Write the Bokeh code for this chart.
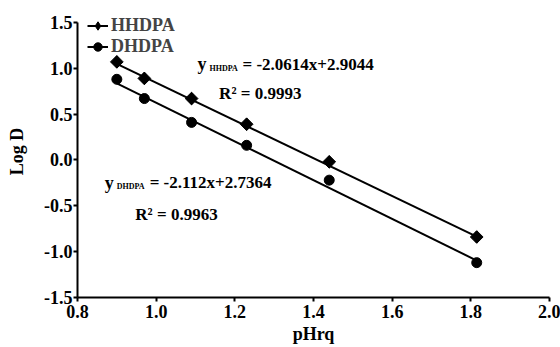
import math
from bokeh.plotting import figure
from bokeh.models import Range1d, Label, Legend, LegendItem, ColumnDataSource
from bokeh.embed import file_html
from bokeh.resources import INLINE

# Data
x_vals = [0.90, 0.97, 1.09, 1.23, 1.44, 1.815]
hhdpa = [1.07, 0.89, 0.67, 0.39, -0.02, -0.84]
dhdpa = [0.88, 0.67, 0.41, 0.16, -0.22, -1.12]
fit_slope = {"HHDPA": -2.0614, "DHDPA": -2.112}
fit_icpt = {"HHDPA": 2.9044, "DHDPA": 2.7364}
fit_x = [0.90, 1.815]
x_ticks = [0.8, 1.0, 1.2, 1.4, 1.6, 1.8, 2.0]
y_ticks = [-1.5, -1.0, -0.5, 0.0, 0.5, 1.0, 1.5]

FONT = "Liberation Serif"
FS = "18px"

# y range extended above 1.5 only to leave room for the legend; axis bounded at 1.5
p = figure(width=560, height=347, output_backend="svg", toolbar_location=None,
           x_range=Range1d(0.8, 2.0), y_range=Range1d(-1.5, 1.685),
           min_border_left=77, min_border_right=11, min_border_top=5, min_border_bottom=50)
p.outline_line_color = None
p.grid.visible = False
p.background_fill_color = "white"
p.border_fill_color = "white"

for ax in (p.xaxis[0], p.yaxis[0]):
    ax.axis_line_width = 2
    ax.major_tick_line_width = 2
    ax.major_tick_in = 0
    ax.major_tick_out = 4
    ax.minor_tick_line_color = None
    ax.major_label_text_font = FONT
    ax.major_label_text_font_size = FS
    ax.major_label_text_font_style = "bold"
    ax.major_label_text_color = "black"
    ax.axis_label_text_font = FONT
    ax.axis_label_text_font_size = FS
    ax.axis_label_text_font_style = "bold"
    ax.axis_label_text_color = "black"

p.yaxis.bounds = (-1.5, 1.5)
p.xaxis.ticker = x_ticks
p.yaxis.ticker = y_ticks
p.xaxis.major_label_overrides = {t: f"{t:.1f}" for t in x_ticks}
p.yaxis.major_label_overrides = {t: f"{t:.1f}" for t in y_ticks}
p.xaxis.major_label_standoff = 3
p.yaxis.major_label_standoff = 1
p.xaxis.axis_label = "pHrq"
p.yaxis.axis_label = "Log D"
p.xaxis.axis_label_standoff = 3
p.yaxis.axis_label_standoff = 14

src = ColumnDataSource(dict(x=x_vals, h=hhdpa, d=dhdpa))
fit_h = [fit_slope["HHDPA"] * v + fit_icpt["HHDPA"] for v in fit_x]
fit_d = [fit_slope["DHDPA"] * v + fit_icpt["DHDPA"] for v in fit_x]
lh = p.line(fit_x, fit_h, line_color="black", line_width=2)
ld = p.line(fit_x, fit_d, line_color="black", line_width=2)
# diamond swatch used by the legend; sits fully underneath the rotated squares
mh_leg = p.scatter("x", "h", source=src, marker="diamond", size=12, color="black")
mh = p.scatter("x", "h", source=src, marker="square", angle=math.pi / 4, size=9, color="black")
md = p.scatter("x", "d", source=src, marker="circle", size=10, color="black")

legend = Legend(items=[LegendItem(label="HHDPA", renderers=[lh, mh_leg]),
                       LegendItem(label="DHDPA", renderers=[ld, md])],
                location=(10, 240), padding=0, spacing=0, margin=0,
                label_text_font=FONT, label_text_font_size=FS, label_text_font_style="bold",
                glyph_width=21, glyph_height=21, label_height=21, label_standoff=3,
                background_fill_alpha=0, border_line_color=None)
p.add_layout(legend)

def lab(x, y, text, size="17px", xo=0, yo=0, align="left", angle=0):
    p.add_layout(Label(x=x, y=y, text=text, x_offset=xo, y_offset=yo, angle=angle,
                       text_font=FONT, text_font_size=size, text_font_style="bold",
                       text_baseline="middle", text_align=align, text_color="black"))

# HHDPA equation
lab(1.105, 1.045, "y", size=FS)
lab(1.105, 1.045, "HHDPA", size="8px", xo=12, yo=-4)
lab(1.105, 1.045, "= -2.0614x+2.9044", xo=45)
lab(1.16, 0.73, "R² = 0.9993")
# DHDPA equation
lab(0.869, -0.25, "y", size=FS)
lab(0.869, -0.25, "DHDPA", size="8px", xo=12, yo=-4)
lab(0.869, -0.25, "= -2.112x+2.7364", xo=45)
lab(0.947, -0.60, "R² = 0.9963")

open("out.html", "w").write(file_html(p, INLINE))
